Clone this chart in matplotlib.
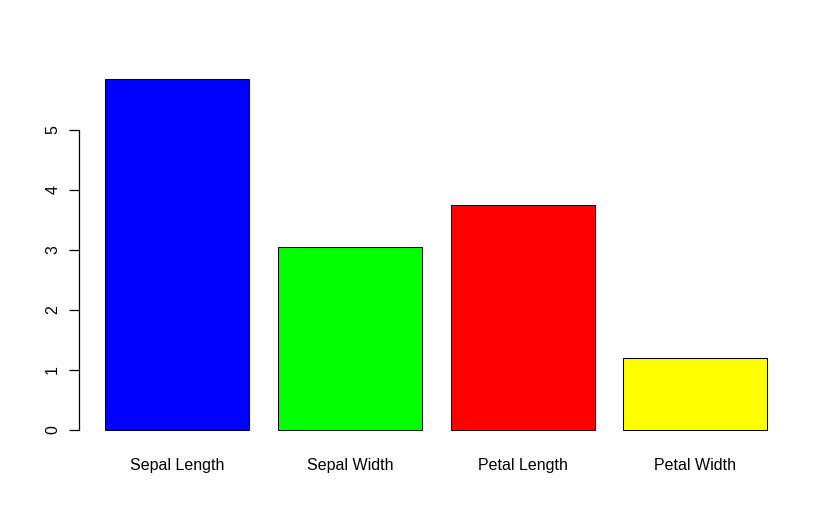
import matplotlib
matplotlib.use("Agg")
import matplotlib.pyplot as plt

# mean of iris measurements
categories = ["Sepal Length", "Sepal Width", "Petal Length", "Petal Width"]
means = [5.843, 3.057, 3.758, 1.199]
colors = ["#0000FF", "#00FF00", "#FF0000", "#FFFF00"]
yticks = [0, 1, 2, 3, 4, 5]

plt.rcParams['font.family'] = ['Liberation Sans', 'DejaVu Sans']

W, H = 836, 532
fig = plt.figure(figsize=(W / 100, H / 100), dpi=100, facecolor='w')
left, right, top, bottom = 78.5, 794, 65.4, 444
ax = fig.add_axes([left / W, 1 - bottom / H, (right - left) / W, (bottom - top) / H])

# R barplot layout: width 1, space 0.2
xpos = [0.2 + 1.2 * i + 0.5 for i in range(len(categories))]
ax.bar(xpos, means, width=1.0, color=colors, edgecolor='black', linewidth=0.75)

xmin, xmax = 0.2, 0.2 + 1.2 * len(categories) - 0.2
pad = 0.04 * (xmax - xmin)
ax.set_xlim(xmin - pad, xmax + pad)
ymax = max(means)
ax.set_ylim(-0.04 * ymax, ymax * 1.04)

for s in ['top', 'right', 'bottom']:
    ax.spines[s].set_visible(False)
ax.spines['left'].set_bounds(0, 5)
ax.spines['left'].set_linewidth(0.9)

ax.set_yticks(yticks)
ax.set_yticklabels([str(v) for v in yticks], rotation=90, va='center', fontsize=11.5)
ax.tick_params(axis='y', length=7.2, width=0.9, pad=6)

ax.set_xticks(xpos)
ax.set_xticklabels(categories, fontsize=11.5)
ax.tick_params(axis='x', length=0, pad=10)

fig.savefig("out.png", dpi=100)
